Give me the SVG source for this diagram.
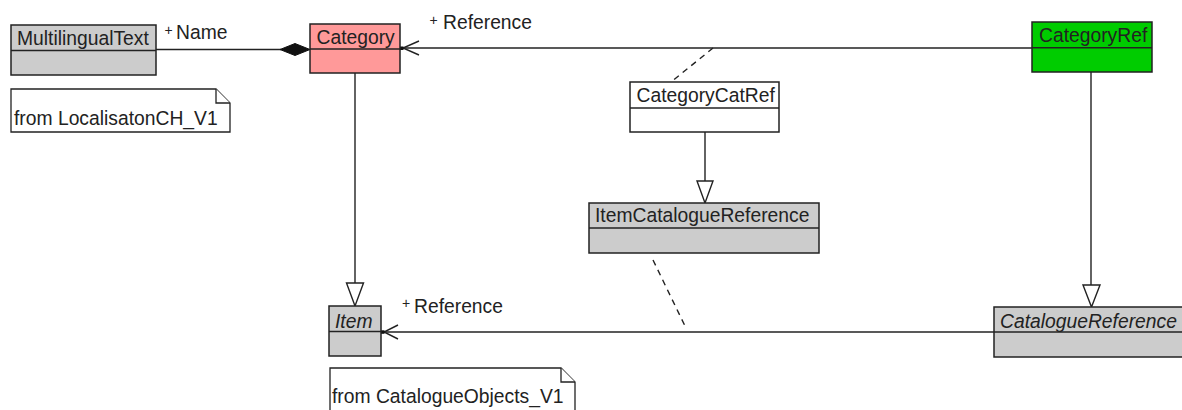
<svg xmlns="http://www.w3.org/2000/svg" width="1182" height="410" viewBox="0 0 1182 410">
<style>
  .box{stroke:#222;stroke-width:1.5}
  .gray{fill:#cccccc}
  .pink{fill:#ff9999}
  .green{fill:#00cc00}
  .white{fill:#ffffff}
  .div{stroke:#222;stroke-width:1.5;fill:none}
  .t{font-family:"Liberation Sans",Arial,sans-serif;font-size:19.3px;fill:#222}
  .it{font-style:italic}
  .plus{font-family:"Liberation Sans",Arial,sans-serif;font-size:14px;fill:#222}
  .ln{stroke:#222;stroke-width:1.4;fill:none}
  .dash{stroke:#222;stroke-width:1.4;fill:none;stroke-dasharray:6 5}
  .tri{stroke:#222;stroke-width:1.4;fill:#fff}
  .note{fill:#fff;stroke:#222;stroke-width:1.3}
</style>
<rect width="1182" height="410" fill="#fff"/>

<g id="connectors">
  <!-- composition MultilingualText - Category -->
  <line class="ln" x1="156" y1="49.5" x2="281" y2="49.5"/>
  <polygon points="310,49.5 295,43.5 280,49.5 295,55.5" fill="#111" stroke="#111" stroke-width="1"/>
  <!-- CategoryRef -> Category association -->
  <line class="ln" x1="402" y1="48" x2="1032" y2="48"/>
  <polyline class="ln" points="419,41 403,48 419,55"/>
  <rect x="400" y="46.5" width="3.5" height="3.5" fill="#111"/>
  <!-- association class dashed -->
  <line class="dash" x1="713" y1="48" x2="671" y2="82"/>
  <!-- Category -> Item generalization -->
  <line class="ln" x1="355" y1="73" x2="355" y2="283"/>
  <polygon class="tri" points="346.5,283 363.5,283 355,306"/>
  <!-- CategoryCatRef -> ItemCatalogueReference -->
  <line class="ln" x1="705" y1="132" x2="705" y2="181"/>
  <polygon class="tri" points="697,181 713,181 705,203"/>
  <!-- CategoryRef -> CatalogueReference -->
  <line class="ln" x1="1091" y1="72" x2="1091" y2="285"/>
  <polygon class="tri" points="1083,285 1100,285 1091.5,307"/>
  <!-- CatalogueReference -> Item association -->
  <line class="ln" x1="383" y1="332" x2="994" y2="332"/>
  <polyline class="ln" points="398,325 384,332 398,339"/>
  <rect x="381" y="330.3" width="3.5" height="3.5" fill="#111"/>
  <!-- association class dashed 2 -->
  <line class="dash" x1="653" y1="260" x2="685" y2="326"/>
</g>

<g id="labels">
  <text class="plus" x="164.5" y="35">+</text>
  <text class="t" x="176" y="38.5">Name</text>
  <text class="plus" x="429.5" y="25">+</text>
  <text class="t" x="443" y="29.3">Reference</text>
  <text class="plus" x="402" y="308.3">+</text>
  <text class="t" x="414" y="313.3">Reference</text>
</g>

<g id="MultilingualText">
  <rect class="box gray" x="11" y="25" width="145" height="50"/>
  <line class="div" x1="11" y1="50.5" x2="156" y2="50.5"/>
  <text class="t" x="17" y="45">MultilingualText</text>
</g>

<g id="Category">
  <rect class="box pink" x="310" y="24" width="90" height="49"/>
  <line class="div" x1="310" y1="49" x2="400" y2="49"/>
  <text class="t" x="316.5" y="44">Category</text>
</g>

<g id="CategoryRef">
  <rect class="box green" x="1032" y="22" width="120" height="50"/>
  <line class="div" x1="1032" y1="47.7" x2="1152" y2="47.7"/>
  <text class="t" x="1039" y="42">CategoryRef</text>
</g>

<g id="CategoryCatRef">
  <rect class="box white" x="630" y="82" width="149" height="50"/>
  <line class="div" x1="630" y1="108" x2="779" y2="108"/>
  <text class="t" x="636.5" y="102">CategoryCatRef</text>
</g>

<g id="ItemCatalogueReference">
  <rect class="box gray" x="589" y="203" width="230" height="50"/>
  <line class="div" x1="589" y1="228" x2="819" y2="228"/>
  <text class="t" x="595" y="222">ItemCatalogueReference</text>
</g>

<g id="Item">
  <rect class="box gray" x="329" y="306" width="52" height="50"/>
  <line class="div" x1="329" y1="331.5" x2="381" y2="331.5"/>
  <text class="t it" x="335" y="328">Item</text>
</g>

<g id="CatalogueReference">
  <rect class="box gray" x="994" y="307" width="200" height="50"/>
  <line class="div" x1="994" y1="332" x2="1194" y2="332"/>
  <text class="t it" x="1000" y="328">CatalogueReference</text>
</g>

<g id="note1">
  <path class="note" d="M11,89 H216 L230,103 V132 H11 Z"/>
  <path class="note" d="M216,89 V103 H230" fill="none"/>
  <text class="t" x="14" y="125">from LocalisatonCH_V1</text>
</g>

<g id="note2">
  <path class="note" d="M330,368 H561 L575,382 V420 H330 Z"/>
  <path class="note" d="M561,368 V382 H575" fill="none"/>
  <text class="t" x="332" y="403">from CatalogueObjects_V1</text>
</g>
</svg>
